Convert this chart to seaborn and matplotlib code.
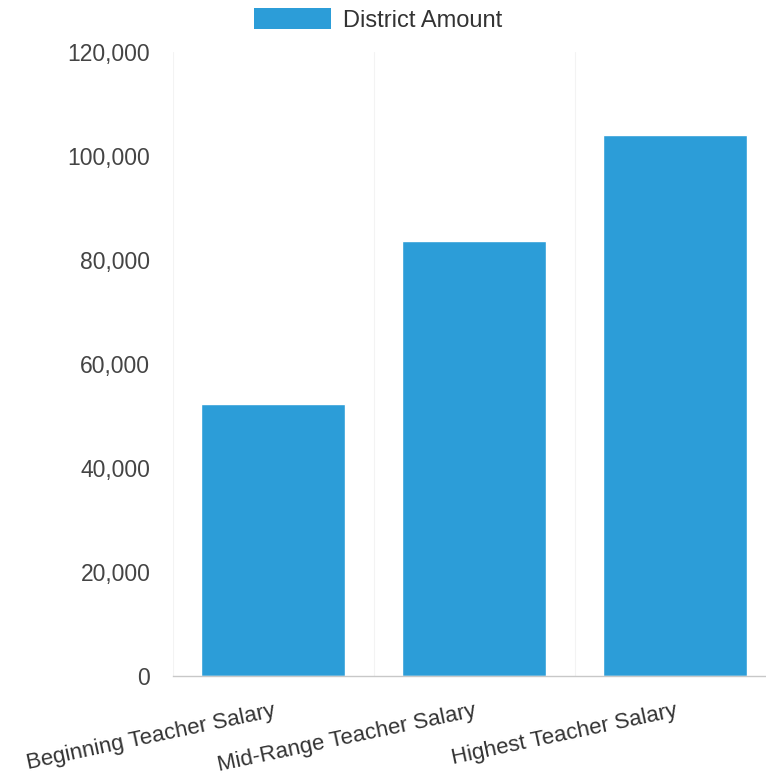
import matplotlib
matplotlib.use("Agg")
import matplotlib.pyplot as plt
import seaborn as sns
import pandas as pd
from matplotlib.patches import Patch

categories = ["Beginning Teacher Salary", "Mid-Range Teacher Salary", "Highest Teacher Salary"]
district_amount = [52300, 83650, 104000]
y_ticks = [0, 20000, 40000, 60000, 80000, 100000, 120000]
y_tick_labels = ["0", "20,000", "40,000", "60,000", "80,000", "100,000", "120,000"]
series_name = "District Amount"

sns.set_theme(style="white")
plt.rcParams['font.family'] = ['Liberation Sans', 'DejaVu Sans']

bar_color = "#2c9dd8"
df = pd.DataFrame({"cat": categories, "val": district_amount})

fig = plt.figure(figsize=(7.66, 7.8), dpi=100)
W, H = 766, 780
left, right, top, bottom = 172.5, 766, 52, 676
ax = fig.add_axes([left / W, 1 - bottom / H, (right - left) / W, (bottom - top) / H])

sns.barplot(data=df, x="cat", y="val", color=bar_color, saturation=1, width=0.717, ax=ax)

ax.set_ylim(0, 120000)
ax.set_xlim(-0.5, 2.5 - 9.5 / 201)
ax.set_yticks(y_ticks)
ax.set_yticklabels(y_tick_labels, fontsize=16.5, color="#444444")
ax.set_xticks(range(len(categories)))
ax.set_xticklabels(categories, fontsize=16.0, color="#333333", rotation=12,
                   ha="right", rotation_mode="anchor")
ax.tick_params(axis="x", pad=18, length=0)
ax.tick_params(axis="y", pad=16, length=0)
ax.set_xlabel("")
ax.set_ylabel("")

for s in ["top", "right", "left"]:
    ax.spines[s].set_visible(False)
ax.spines["bottom"].set_color("#c8c8c8")
ax.spines["bottom"].set_linewidth(1.0)
ax.spines["bottom"].set_linestyle((0, (1, 1)))

for xb in [-0.5, 0.5, 1.5]:
    ax.axvline(xb, color="#f3f3f3", linewidth=0.8, zorder=0)

handle = Patch(facecolor=bar_color, edgecolor="none")
fig.legend([handle], [series_name], loc="center", bbox_to_anchor=(378 / W, 1 - 20 / H),
           frameon=False, fontsize=17, handlelength=3.3, handleheight=1.0,
           handletextpad=0.5, labelcolor="#333333")

fig.savefig("out.png", dpi=100)
